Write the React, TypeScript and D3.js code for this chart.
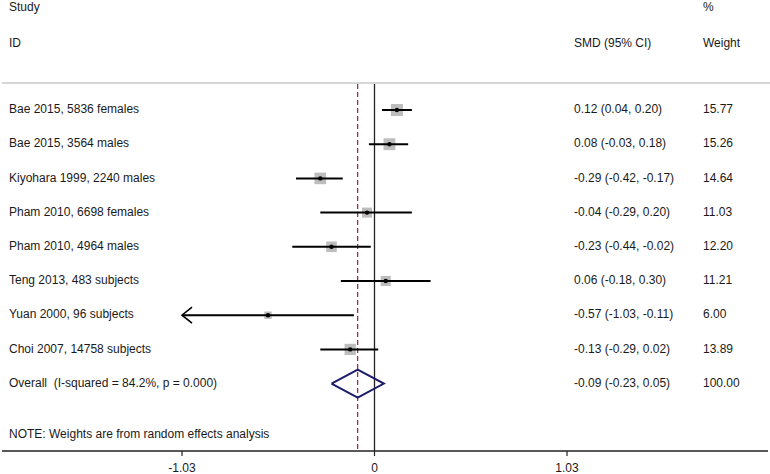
import React from "react";
import * as d3 from "d3";

const studies = [
  "Bae 2015, 5836 females",
  "Bae 2015, 3564 males",
  "Kiyohara 1999, 2240 males",
  "Pham 2010, 6698 females",
  "Pham 2010, 4964 males",
  "Teng 2013, 483 subjects",
  "Yuan 2000, 96 subjects",
  "Choi 2007, 14758 subjects",
];
const smd = [0.12, 0.08, -0.29, -0.04, -0.23, 0.06, -0.57, -0.13];
const lower = [0.04, -0.03, -0.42, -0.29, -0.44, -0.18, -1.03, -0.29];
const upper = [0.2, 0.18, -0.17, 0.2, -0.02, 0.3, -0.11, 0.02];
const weights = [15.77, 15.26, 14.64, 11.03, 12.2, 11.21, 6.0, 13.89];
const arrowLeft = [false, false, false, false, false, false, true, false];

const overallLabel = "Overall  (I-squared = 84.2%, p = 0.000)";
const overall = { est: -0.09, lo: -0.23, hi: 0.05, weight: "100.00" };
const tickValues = [-1.03, 0, 1.03];
const tickLabels = ["-1.03", "0", "1.03"];

const fmt = (v: number) => v.toFixed(2);

export default function App() {
  const W = 770;
  const H = 474;
  const x = d3.scaleLinear().domain([-1.03, 1.03]).range([182, 567]);
  const rowY = d3.scaleLinear().domain([0, 1]).range([110, 144.2]);
  const boxSize = d3.scaleSqrt().domain([0, 15.77]).range([0, 12]);
  const font = "'Liberation Sans', Arial, sans-serif";
  const fs = 12;
  const axisY = 451;
  const topY = 83;
  const colSMD = 574;
  const colW = 703;
  const overallY = rowY(studies.length);
  const txt = "#1a1a1a";

  const diamond = d3.line()([
    [x(overall.lo), overallY],
    [x(overall.est), overallY - 14],
    [x(overall.hi), overallY],
    [x(overall.est), overallY + 14],
    [x(overall.lo), overallY],
  ]);

  return (
    <svg
      width={W}
      height={H}
      style={{ position: "absolute", left: 0, top: 0, background: "#fff" }}
      fontFamily={font}
      fontSize={fs}
    >
      <rect width={W} height={H} fill="#fff" />
      {/* headers */}
      <text x={9} y={8} dominantBaseline="middle" fill={txt}>Study</text>
      <text x={9} y={44} dominantBaseline="middle" fill={txt}>ID</text>
      <text x={colSMD} y={44} dominantBaseline="middle" fill={txt}>SMD (95% CI)</text>
      <text x={colW} y={8} dominantBaseline="middle" fill={txt}>%</text>
      <text x={colW} y={44} dominantBaseline="middle" fill={txt}>Weight</text>
      <line x1={2} x2={W} y1={topY} y2={topY} stroke="#c8c8c8" strokeWidth={1.5} />

      {/* reference lines */}
      <line x1={x(0)} x2={x(0)} y1={topY + 1} y2={axisY} stroke="#222" strokeWidth={1.3} />
      <line
        x1={x(overall.est)}
        x2={x(overall.est)}
        y1={topY + 1}
        y2={axisY}
        stroke="#a3203a"
        strokeWidth={1.2}
        strokeDasharray="5,3"
      />

      {/* studies */}
      {studies.map((s, i) => {
        const y = rowY(i);
        const bs = boxSize(weights[i]);
        const x1 = x(lower[i]);
        const x2 = x(upper[i]);
        return (
          <g key={s}>
            <text x={9} y={y} dominantBaseline="middle" fill={txt}>{s}</text>
            <rect x={x(smd[i]) - bs / 2} y={y - bs / 2} width={bs} height={bs} fill="#bdbdbd" />
            <line x1={x1} x2={x2} y1={y} y2={y} stroke="#000" strokeWidth={2} />
            {arrowLeft[i] && (
              <path
                d={`M${x1 + 10},${y - 8} L${x1},${y} L${x1 + 10},${y + 8}`}
                fill="none"
                stroke="#000"
                strokeWidth={1.6}
              />
            )}
            <circle cx={x(smd[i])} cy={y} r={2.2} fill="#000" />
            <text x={colSMD} y={y} dominantBaseline="middle" fill={txt}>
              {`${fmt(smd[i])} (${fmt(lower[i])}, ${fmt(upper[i])})`}
            </text>
            <text x={colW} y={y} dominantBaseline="middle" fill={txt}>{fmt(weights[i])}</text>
          </g>
        );
      })}

      {/* overall */}
      <text x={9} y={overallY} dominantBaseline="middle" fill={txt} style={{ whiteSpace: "pre" }}>
        {overallLabel}
      </text>
      <path d={diamond ?? ""} fill="none" stroke="#1c1c6b" strokeWidth={2} />
      <text x={colSMD} y={overallY} dominantBaseline="middle" fill={txt}>
        {`${fmt(overall.est)} (${fmt(overall.lo)}, ${fmt(overall.hi)})`}
      </text>
      <text x={colW} y={overallY} dominantBaseline="middle" fill={txt}>{overall.weight}</text>

      <text x={9} y={435} dominantBaseline="middle" fill={txt}>
        NOTE: Weights are from random effects analysis
      </text>

      {/* axis */}
      <line x1={2} x2={768} y1={axisY} y2={axisY} stroke="#222" strokeWidth={1.3} />
      {tickValues.map((t, i) => (
        <g key={t}>
          <line x1={x(t)} x2={x(t)} y1={axisY} y2={axisY + 5} stroke="#222" strokeWidth={1.2} />
          <text x={x(t)} y={469} textAnchor="middle" dominantBaseline="middle" fill={txt}>
            {tickLabels[i]}
          </text>
        </g>
      ))}
    </svg>
  );
}
